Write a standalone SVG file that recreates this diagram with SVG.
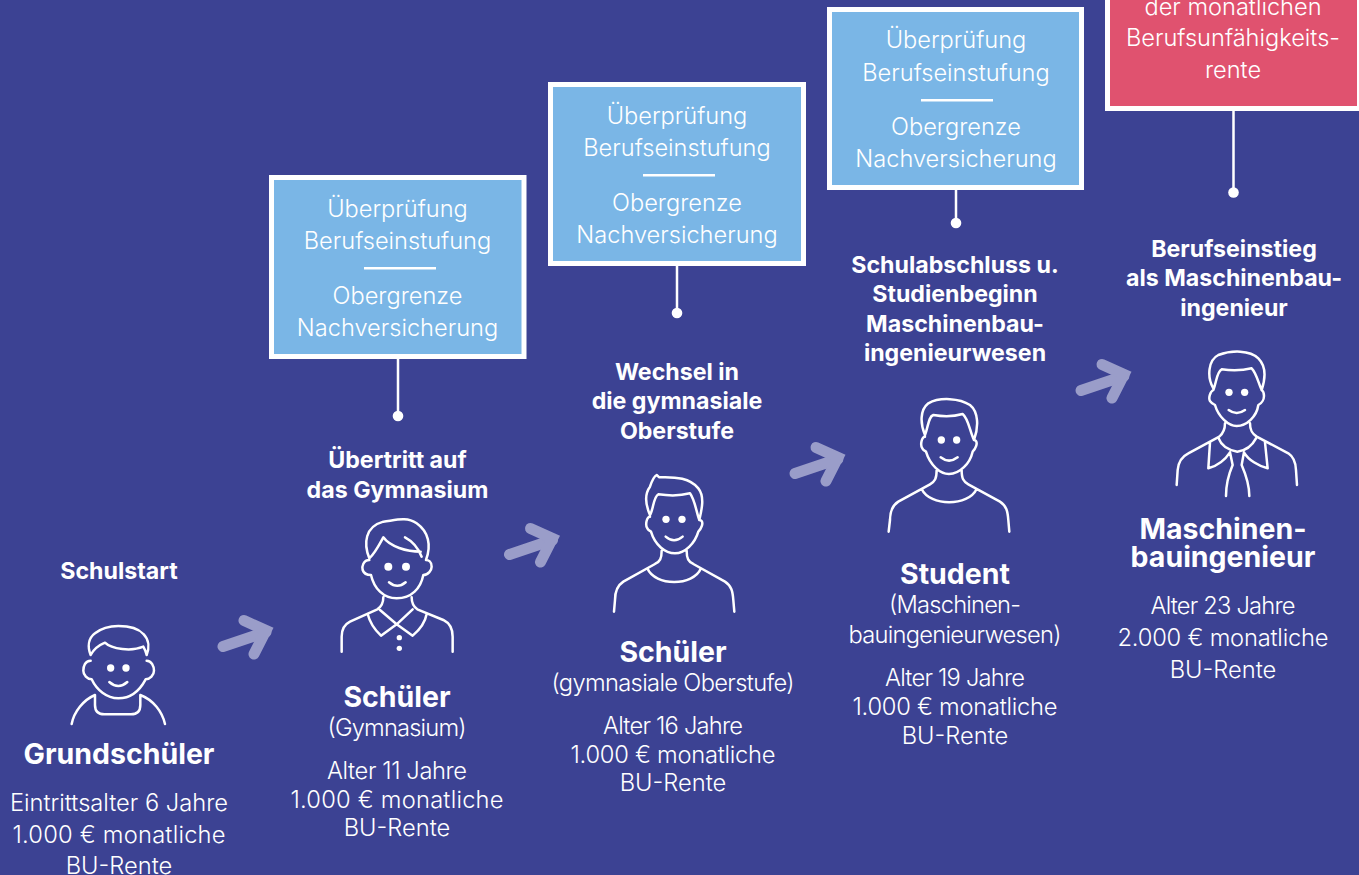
<svg xmlns="http://www.w3.org/2000/svg" xmlns:xlink="http://www.w3.org/1999/xlink" width="1359" height="875" viewBox="0 0 1359 875">
<style>
text{font-family:Inter,"Liberation Sans",sans-serif;fill:#fff;text-anchor:middle}
.t{font-size:23.700px;font-weight:300}
.b{font-size:23.600px;font-weight:300}
.s{font-size:23.200px;font-weight:700}
.h{font-size:28.500px;font-weight:700}
.ic{fill:none;stroke:#fff;stroke-width:7.500;stroke-linecap:round;stroke-linejoin:round}
.e{fill:#fff;stroke:none}
.blue{fill:#7ab6e6;stroke:#fff;stroke-width:5}
.red{fill:#e0526f;stroke:#fff;stroke-width:5}
.ln{stroke:#fff;stroke-width:2.500;fill:none}
.ar{fill:none;stroke:#9a9dc9;stroke-width:11;stroke-linecap:round;stroke-linejoin:miter;stroke-miterlimit:8}
</style>
<defs>
<g id="arrow"><path class="ar" d="M-52 17.500L-9 3"/><path class="ar" d="M-31 -8.500L-9 1.500L-21 25"/></g>
</defs>
<rect width="1359" height="875" fill="#3c4293"/>
<g id="connectors">
<path class="ln" d="M398 358V415M677 265V313M956 190V223M1233.500 110V192"/>
<circle class="e" cx="398" cy="416" r="5.300"/><circle class="e" cx="677" cy="313" r="5.300"/><circle class="e" cx="956" cy="223" r="5.300"/><circle class="e" cx="1233.500" cy="192.500" r="5.300"/>
<use xlink:href="#arrow" href="#arrow" x="275" y="629"/>
<use xlink:href="#arrow" href="#arrow" x="561.500" y="537"/>
<use xlink:href="#arrow" href="#arrow" x="847" y="456"/>
<use xlink:href="#arrow" href="#arrow" x="1133" y="373"/>
</g>
<g id="node-grundschueler">
<text class="s" x="119" y="579">Schulstart</text>
<g transform="translate(0 540) scale(.3333)">
<path class="ic" d="M272 345C262 320 265 295 285 280C310 260 340 258 355 258C385 258 415 265 430 282C448 300 448 325 440 345M272 345C280 330 298 315 315 308C335 328 395 335 430 320C436 330 438 338 440 345M272 362C255 362 250 380 250 392C250 405 262 418 275 418C290 450 320 475 355 475C392 475 420 450 437 418C450 418 462 405 462 392C462 380 455 362 440 362M215 552C222 515 250 480 285 465V495Q285 523 313 523H393Q421 523 421 495V465C460 480 487 515 495 552"/>
<circle class="e" cx="332" cy="384" r="11"/><circle class="e" cx="378" cy="384" r="11"/>
<path class="ic" d="M328 426Q355 450 382 426"/>
</g>
<text class="h" x="119" y="764">Grundschüler</text>
<text class="t" x="119" y="811" textLength="218">Eintrittsalter 6 Jahre</text>
<text class="t" x="119" y="843" textLength="213">1.000 € monatliche</text>
<text class="t" x="119" y="874">BU-Rente</text>
</g>
<g id="node-schueler-gymnasium">
<rect class="blue" x="271.500" y="177.500" width="252.500" height="179"/>
<text class="b" x="397.500" y="217">Überprüfung</text>
<text class="b" x="397.500" y="249">Berufseinstufung</text>
<rect class="e" x="364" y="267" width="72" height="2.500"/>
<text class="b" x="397.500" y="304">Obergrenze</text>
<text class="b" x="397.500" y="336">Nachversicherung</text>
<text class="s" x="397.500" y="468">Übertritt auf</text>
<text class="s" x="397.500" y="498">das Gymnasium</text>
<g transform="translate(300 510) scale(.3333)">
<path class="ic" d="M208 145C190 100 195 50 250 35C290 30 320 20 350 40C385 65 395 105 378 150M208 145C225 130 240 100 250 82C270 110 320 125 362 125M315 82C340 95 355 115 365 140M208 150C190 150 185 170 188 180C192 192 205 195 213 195C222 235 250 265 290 265C335 265 362 235 370 195C385 195 395 180 395 170C395 155 385 150 378 150M250 262C250 280 245 290 232 298L150 335C130 345 125 360 125 380V425M335 262C335 280 340 290 352 298L430 330C450 340 458 360 458 380V425M203 312C210 340 225 360 243 377L290 343L240 300M380 312C375 340 358 360 338 377L290 343L338 298"/>
<circle class="e" cx="265" cy="170" r="12"/><circle class="e" cx="318" cy="170" r="12"/>
<path class="ic" d="M267 217Q292 238 317 217"/>
<circle class="e" cx="298" cy="383" r="8"/><circle class="e" cx="298" cy="415" r="8"/>
</g>
<text class="h" x="397" y="707">Schüler</text>
<text class="t" x="397" y="736" textLength="139">(Gymnasium)</text>
<text class="t" x="397" y="779" textLength="140">Alter 11 Jahre</text>
<text class="t" x="397" y="808" textLength="213">1.000 € monatliche</text>
<text class="t" x="397" y="836">BU-Rente</text>
</g>
<g id="node-schueler-oberstufe">
<rect class="blue" x="550.500" y="84.500" width="253" height="179"/>
<text class="b" x="677" y="124">Überprüfung</text>
<text class="b" x="677" y="156">Berufseinstufung</text>
<rect class="e" x="643" y="174" width="72" height="2.500"/>
<text class="b" x="677" y="211">Obergrenze</text>
<text class="b" x="677" y="243">Nachversicherung</text>
<text class="s" x="677" y="380">Wechsel in</text>
<text class="s" x="677" y="409">die gymnasiale</text>
<text class="s" x="677" y="439">Oberstufe</text>
<g transform="translate(590 460) scale(.3333)">
<path class="ic" d="M180 165C165 130 165 100 180 80C185 65 190 50 200 45L208 52C260 50 300 55 325 85C345 110 335 150 328 180M180 165C190 150 190 110 205 103C240 108 270 108 300 100C315 120 320 160 328 180M180 170C170 170 165 195 172 205C176 212 180 212 183 215C195 255 225 280 255 280C285 280 315 250 325 215C335 205 340 190 335 183C333 180 330 180 328 180M215 272C215 295 210 305 195 312L100 365C80 378 75 395 75 420L72 455M290 272C290 295 295 305 310 312L405 365C425 378 428 395 430 420L433 455M172 325C195 380 310 380 333 325"/>
<circle class="e" cx="228" cy="178" r="11"/><circle class="e" cx="276" cy="178" r="11"/>
<path class="ic" d="M227 230Q252 252 278 230"/>
</g>
<text class="h" x="673" y="662">Schüler</text>
<text class="t" x="673" y="691" textLength="243">(gymnasiale Oberstufe)</text>
<text class="t" x="673" y="734" textLength="140">Alter 16 Jahre</text>
<text class="t" x="673" y="763" textLength="205">1.000 € monatliche</text>
<text class="t" x="673" y="791">BU-Rente</text>
</g>
<g id="node-student">
<rect class="blue" x="829.500" y="9.500" width="252" height="178"/>
<text class="b" x="956" y="48">Überprüfung</text>
<text class="b" x="956" y="81">Berufseinstufung</text>
<rect class="e" x="921" y="99" width="72" height="2.500"/>
<text class="b" x="956" y="135">Obergrenze</text>
<text class="b" x="956" y="167">Nachversicherung</text>
<text class="s" x="955" y="273">Schulabschluss u.</text>
<text class="s" x="955" y="302">Studienbeginn</text>
<text class="s" x="955" y="332">Maschinenbau-</text>
<text class="s" x="955" y="361">ingenieurwesen</text>
<g transform="translate(780 390) scale(.3333)">
<path class="ic" d="M435 135C420 100 420 60 445 40C480 20 540 25 570 45C595 65 597 110 582 150M435 135C445 110 445 80 460 75C490 80 520 80 548 72C565 85 570 125 582 150M435 140C425 140 420 165 427 175C431 182 435 182 438 185C450 225 480 252 507 252C540 252 570 220 578 185C588 175 593 160 588 153C586 150 585 150 582 150M470 240C470 265 465 275 450 283L355 335C335 348 330 365 330 390L326 425M545 240C545 265 550 275 565 283L660 335C680 348 683 365 685 390L688 425M425 297C450 350 565 350 590 297"/>
<circle class="e" cx="484" cy="150" r="11"/><circle class="e" cx="530" cy="150" r="11"/>
<path class="ic" d="M482 202Q507 222 533 202"/>
</g>
<text class="h" x="955" y="584">Student</text>
<text class="t" x="955" y="613" textLength="132">(Maschinen-</text>
<text class="t" x="955" y="643" textLength="213">bauingenieurwesen)</text>
<text class="t" x="955" y="686" textLength="140">Alter 19 Jahre</text>
<text class="t" x="955" y="715" textLength="205">1.000 € monatliche</text>
<text class="t" x="955" y="744">BU-Rente</text>
</g>
<g id="node-ingenieur">
<rect class="red" x="1107.500" y="-20" width="252" height="128.500"/>
<text class="b" x="1233" y="15">der monatlichen</text>
<text class="b" x="1233" y="46">Berufsunfähigkeits-</text>
<text class="b" x="1233" y="78">rente</text>
<text class="s" x="1234" y="257">Berufseinstieg</text>
<text class="s" x="1234" y="286">als Maschinenbau-</text>
<text class="s" x="1234" y="316">ingenieur</text>
<g transform="translate(1160 340) scale(.3333)">
<path class="ic" d="M160 145C140 110 145 60 175 45C215 30 270 30 295 55C320 80 315 120 305 150M160 150C170 125 170 95 185 88C215 92 245 92 275 85C290 100 295 130 305 150M160 150C150 155 145 175 150 183C155 190 160 192 165 195C175 230 205 258 230 258C260 258 290 230 295 195C305 190 312 178 312 168C312 158 308 152 305 150M195 250C195 270 190 280 178 290L85 340C65 350 55 365 53 390L50 435M270 250C270 270 275 280 290 290L385 340C400 350 407 365 408 390L411 435M176 295C185 320 205 330 232 335C255 332 275 320 288 295M150 307L145 385C170 378 195 360 210 337M315 307L323 385C295 378 265 360 252 337M210 337L218 375C205 405 198 435 198 468M252 337L245 375C258 405 268 435 268 468"/>
<circle class="e" cx="207" cy="157" r="11"/><circle class="e" cx="254" cy="157" r="11"/>
<path class="ic" d="M206 210Q230 228 255 210"/>
</g>
<text class="h" x="1223" y="539">Maschinen-<tspan x="1223" y="567">bauingenieur</tspan></text>
<text class="t" x="1223" y="614" textLength="145">Alter 23 Jahre</text>
<text class="t" x="1223" y="646" textLength="211">2.000 € monatliche</text>
<text class="t" x="1223" y="678">BU-Rente</text>
</g>
</svg>
